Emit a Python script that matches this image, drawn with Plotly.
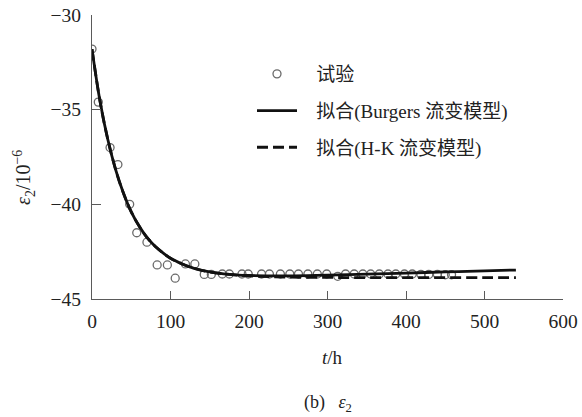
import plotly.graph_objects as go

# Experimental data (t in h, strain in 1e-6)
t_exp = [0, 8, 23, 33, 48, 57, 70, 83, 96, 106, 119, 131, 143, 152, 166, 175,
         191, 199, 216, 226, 240, 252, 263, 275, 287, 299, 313, 323, 334, 345,
         355, 366, 377, 387, 398, 408, 419, 429, 440, 450, 458]
eps_exp = [-31.8, -34.6, -37.0, -37.9, -40.0, -41.5, -42.0, -43.2, -43.2, -43.9,
           -43.15, -43.15, -43.7, -43.7, -43.68, -43.68, -43.68, -43.68, -43.68,
           -43.68, -43.68, -43.68, -43.68, -43.68, -43.68, -43.68, -43.8, -43.68,
           -43.68, -43.68, -43.68, -43.68, -43.68, -43.68, -43.68, -43.68, -43.7,
           -43.7, -43.7, -43.72, -43.72]

# Burgers fit curve
t_bur = [0, 10, 20, 30, 40, 50, 60, 70, 80, 90, 100, 115, 130, 150, 175, 200,
         250, 300, 350, 400, 450, 500, 540]
eps_bur = [-31.8, -34.5, -36.55, -38.15, -39.4, -40.4, -41.15, -41.75, -42.2,
           -42.55, -42.85, -43.15, -43.38, -43.57, -43.7, -43.76, -43.78, -43.74,
           -43.69, -43.63, -43.57, -43.51, -43.47]

# H-K fit curve
t_hk = [0, 10, 20, 30, 40, 50, 60, 70, 80, 90, 100, 115, 130, 150, 175, 200,
        250, 300, 350, 400, 450, 500, 540]
eps_hk = [-31.8, -34.5, -36.55, -38.15, -39.4, -40.4, -41.15, -41.75, -42.2,
          -42.55, -42.85, -43.15, -43.38, -43.57, -43.7, -43.78, -43.84, -43.86,
          -43.87, -43.87, -43.87, -43.87, -43.87]

x_ticks = [0, 100, 200, 300, 400, 500, 600]
y_ticks = [-30, -35, -40, -45]
y_ticktext = ["−30", "−35", "−40", "−45"]

FONT = "Liberation Serif, Times New Roman, Noto Sans CJK SC, serif"
W, H = 582, 417
L, R, T, B = 92, 19, 15, 118
PAD = "\u00a0\u00a0\u00a0"
AXC = "#5a5a5a"

fig = go.Figure()
fig.add_trace(go.Scatter(
    x=t_exp, y=eps_exp, mode="markers", name=PAD + "试验", legendgroup="a",
    marker=dict(symbol="circle-open", size=8, color="#6a6a6a", line=dict(width=1.3)),
))
fig.add_trace(go.Scatter(
    x=t_bur, y=eps_bur, mode="lines", name=PAD + "拟合(Burgers 流变模型)", legendgroup="b",
    line=dict(color="#111111", width=2.8, shape="spline"),
))
fig.add_trace(go.Scatter(
    x=t_hk, y=eps_hk, mode="lines", name=PAD + "拟合(H-K 流变模型)", legendgroup="c",
    line=dict(color="#111111", width=2.8, dash="11px,5px", shape="spline"),
))

def px_x(p):
    return (p - L) / (W - L - R)

def px_y(p):
    return 1 - (p - T) / (H - T - B)

fig.update_layout(
    width=W, height=H,
    margin=dict(l=L, r=R, t=T, b=B, autoexpand=False),
    plot_bgcolor="white", paper_bgcolor="white",
    font=dict(family=FONT, size=16, color="#222222"),
    showlegend=True,
    legend=dict(
        x=px_x(252), y=px_y(55), xanchor="left", yanchor="top",
        bgcolor="rgba(0,0,0,0)", font=dict(size=19, family=FONT),
        tracegroupgap=9, itemwidth=40,
    ),
    xaxis=dict(
        range=[0, 600], tickvals=x_ticks, ticks="inside", ticklen=8,
        tickcolor=AXC, showline=True, linecolor=AXC, linewidth=1.3,
        showgrid=False, zeroline=False, tickfont=dict(size=19.5), automargin=False,
        ticklabelstandoff=4,
    ),
    yaxis=dict(
        range=[-45, -30], tickvals=y_ticks, ticktext=y_ticktext,
        ticks="inside", ticklen=9, tickcolor=AXC, showline=True,
        linecolor=AXC, linewidth=1.3, showgrid=False, zeroline=False,
        tickfont=dict(size=19.5), automargin=False, ticklabelstandoff=6,
    ),
    annotations=[
        dict(text="<i>t</i>/h", xref="paper", yref="paper",
             x=px_x(332), y=px_y(357), xanchor="center", yanchor="middle",
             showarrow=False, font=dict(size=19, family=FONT)),
        dict(text="<i>ε</i><sub>2</sub>/10<sup>−6</sup>", xref="paper", yref="paper",
             x=px_x(24), y=px_y(178), xanchor="center", yanchor="middle",
             textangle=-90, showarrow=False, font=dict(size=20, family=FONT)),
        dict(text="(b)\u00a0\u00a0\u00a0<i>ε</i><sub>2</sub>", xref="paper", yref="paper",
             x=px_x(328), y=px_y(403), xanchor="center", yanchor="middle",
             showarrow=False, font=dict(size=18, family=FONT)),
    ],
)

fig.write_html(
    "out.html",
    config={"displayModeBar": False},
    post_script="document.body.style.margin='0';document.body.style.overflow='hidden';",
)
